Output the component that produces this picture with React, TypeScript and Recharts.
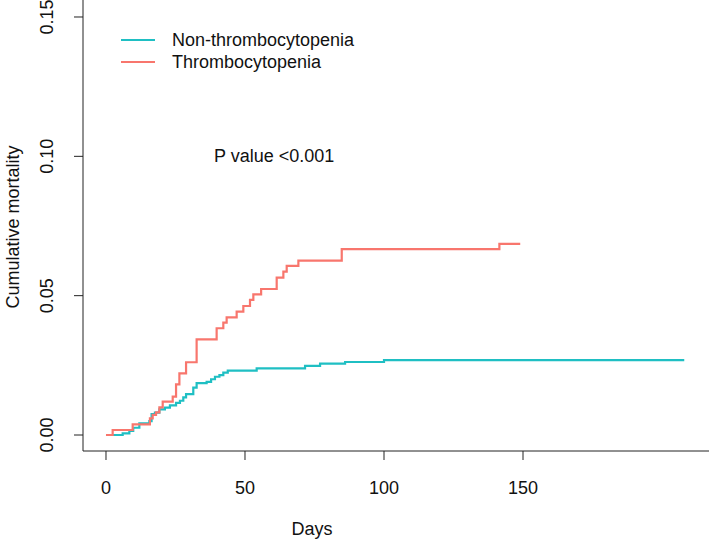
import { LineChart, Line, XAxis, YAxis } from "recharts";

// Non-thrombocytopenia: day of each step, cumulative mortality after the step
const nonDays = [0, 6, 8.4, 9.8, 12, 15.6, 16.4, 17.6, 19.2, 21.2, 23, 25.2, 26.6, 27.8, 28.8, 31.4, 32.6, 36.2, 37.8, 39.2, 40.8, 42.2, 43.8, 54.2, 71.6, 77, 86, 100, 208];
const nonValues = [0, 0.0006, 0.0015, 0.0026, 0.0042, 0.005, 0.0075, 0.008, 0.0092, 0.0098, 0.0106, 0.0115, 0.0123, 0.0135, 0.0147, 0.017, 0.0186, 0.0191, 0.02, 0.0209, 0.0215, 0.0224, 0.0231, 0.0239, 0.0248, 0.0256, 0.0262, 0.0269, 0.0269];

// Thrombocytopenia
const thrDays = [0, 2.4, 9.6, 15.8, 16.8, 18, 19.2, 20.4, 24, 25.2, 26.4, 28.8, 32.6, 39.8, 42.2, 43.4, 47, 49.4, 51.8, 53, 55.8, 61.4, 63.8, 65, 69.2, 84.8, 141.5, 149];
const thrValues = [0, 0.0018, 0.0038, 0.006, 0.0072, 0.0081, 0.0099, 0.012, 0.0138, 0.0182, 0.0221, 0.0261, 0.0343, 0.0383, 0.0403, 0.0422, 0.0443, 0.0463, 0.0485, 0.0505, 0.0524, 0.0565, 0.0586, 0.0607, 0.0626, 0.0667, 0.0686, 0.0686];

const xTicks = [0, 50, 100, 150];
const yTicks = [0, 0.05, 0.1, 0.15];

const seriesNames = ["Non-thrombocytopenia", "Thrombocytopenia"];
const seriesColors = ["#1FBFC3", "#F8766D"];

const nonData = nonDays.map((d, i) => ({ day: d, value: nonValues[i] }));
const thrData = thrDays.map((d, i) => ({ day: d, value: thrValues[i] }));

const font = "'Liberation Sans', Arial, sans-serif";

const YTick = (props: any) => {
  const { y, payload } = props;
  return (
    <text
      x={47}
      y={y}
      transform={`rotate(-90 47 ${y})`}
      textAnchor="middle"
      dominantBaseline="central"
      fontSize={18}
      fill="#111"
      fontFamily={font}
    >
      {payload.value.toFixed(2)}
    </text>
  );
};

const App = () => {
  return (
    <div style={{ position: "relative", width: 709, height: 539, background: "#fff" }}>
      <style>{`body{margin:0}`}</style>
      <LineChart width={709} height={539} margin={{ top: 0, right: 0, left: 0, bottom: 0 }}>
        <XAxis
          dataKey="day"
          type="number"
          domain={[-8.27, 216.9]}
          ticks={xTicks}
          allowDataOverflow
          height={88}
          tickSize={9}
          tickMargin={21}
          stroke="#222"
          tick={{ fontSize: 18, fill: "#111", fontFamily: font }}
          label={{ value: "Days", position: "insideBottom", offset: 4, fontSize: 18, fill: "#111", fontFamily: font, dx: -84 }}
        />
        <YAxis
          dataKey="value"
          type="number"
          domain={[-0.00574, 0.1561]}
          ticks={yTicks}
          allowDataOverflow
          width={83}
          tickSize={9}
          stroke="#222"
          tick={<YTick />}
          label={{
            content: () => (
              <text
                x={13}
                y={227}
                transform="rotate(-90 13 227)"
                textAnchor="middle"
                dominantBaseline="central"
                fontSize={18}
                fill="#111"
                fontFamily={font}
              >
                Cumulative mortality
              </text>
            ),
          }}
        />
        <Line
          data={nonData}
          dataKey="value"
          name={seriesNames[0]}
          type="stepAfter"
          stroke={seriesColors[0]}
          strokeWidth={2.2}
          dot={false}
          isAnimationActive={false}
        />
        <Line
          data={thrData}
          dataKey="value"
          name={seriesNames[1]}
          type="stepAfter"
          stroke={seriesColors[1]}
          strokeWidth={2.2}
          dot={false}
          isAnimationActive={false}
        />
      </LineChart>
      <div style={{ position: "absolute", left: 121, top: 29, fontFamily: font, fontSize: 18, color: "#111", lineHeight: "22px" }}>
        {seriesNames.map((n, i) => (
          <div key={n} style={{ display: "flex", alignItems: "center" }}>
            <span style={{ display: "inline-block", width: 34, height: 2, background: seriesColors[i], marginRight: 17 }} />
            {n}
          </div>
        ))}
      </div>
      <div style={{ position: "absolute", left: 214, top: 146, fontFamily: font, fontSize: 18, color: "#111" }}>
        P value &lt;0.001
      </div>
    </div>
  );
};

export default App;
